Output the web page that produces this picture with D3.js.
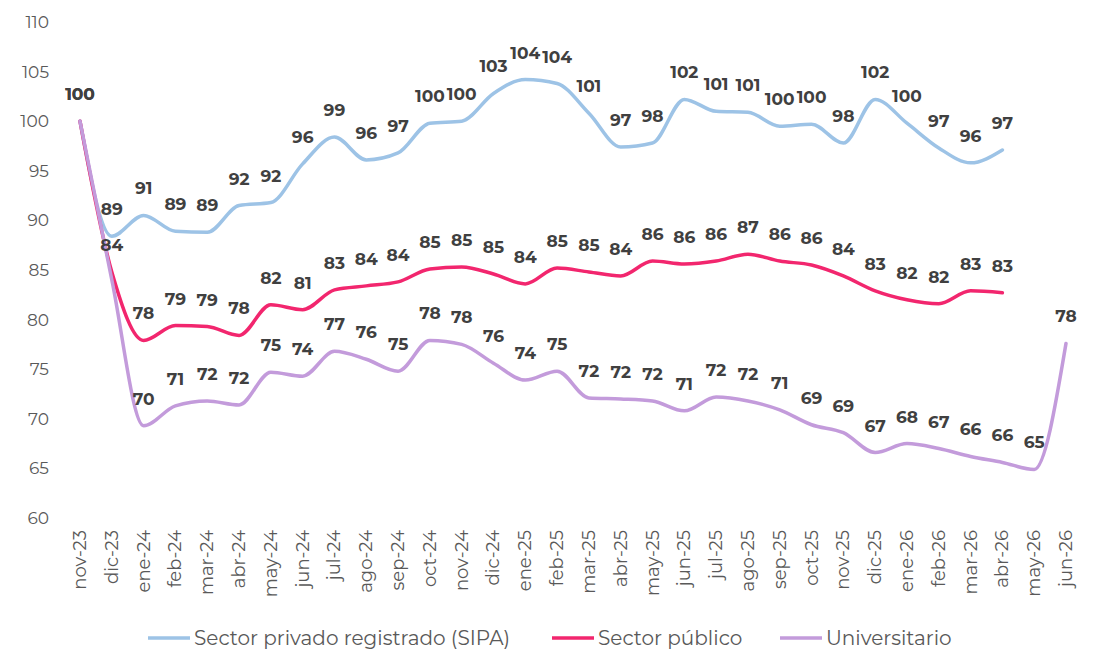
<!DOCTYPE html>
<html><head><meta charset="utf-8">
<script src="https://cdn.jsdelivr.net/npm/d3@7"></script>
<style>body{margin:0;background:#fff}text{font-family:Montserrat,"Open Sans",sans-serif}</style>
</head><body><svg id="c" width="1099" height="670"></svg>
<script>
const months = ["nov-23","dic-23","ene-24","feb-24","mar-24","abr-24","may-24","jun-24","jul-24","ago-24","sep-24","oct-24","nov-24","dic-24","ene-25","feb-25","mar-25","abr-25","may-25","jun-25","jul-25","ago-25","sep-25","oct-25","nov-25","dic-25","ene-26","feb-26","mar-26","abr-26","may-26","jun-26"];
const sipa = [100,88.4,90.5,88.9,88.8,91.5,91.8,95.7,98.4,96.1,96.8,99.8,100.0,102.8,104.2,103.8,100.8,97.4,97.8,102.2,101.0,100.9,99.5,99.7,97.8,102.2,99.8,97.3,95.8,97.1];
const sipaLbl = [100,89,91,89,89,92,92,96,99,96,97,100,100,103,104,104,101,97,98,102,101,101,100,100,98,102,100,97,96,97];
const publico = [100,84.8,77.9,79.4,79.3,78.4,81.5,81.0,83.0,83.4,83.8,85.1,85.3,84.6,83.6,85.2,84.8,84.4,85.9,85.6,85.9,86.6,85.9,85.5,84.4,82.9,82.0,81.6,82.9,82.7];
const publicoLbl = [100,84,78,79,79,78,82,81,83,84,84,85,85,85,84,85,85,84,86,86,86,87,86,86,84,83,82,82,83,83];
const univ = [100,84,69.3,71.3,71.8,71.4,74.7,74.3,76.8,76.0,74.8,77.9,77.5,75.6,73.9,74.8,72.1,72.0,71.8,70.8,72.2,71.8,70.9,69.4,68.6,66.6,67.5,67.0,66.2,65.6,64.9,77.6];
const univLbl = [null,null,70,71,72,72,75,74,77,76,75,78,78,76,74,75,72,72,72,71,72,72,71,69,69,67,68,67,66,66,65,78];
const yTicks = [60,65,70,75,80,85,90,95,100,105,110];
const seriesNames = ["Sector privado registrado (SIPA)","Sector público","Universitario"];
const colors = ["#9DC3E6","#F2266E","#C39BDB"];

const svg = d3.select("#c");
const x = d3.scalePoint().domain(months).range([80,1066]);
const y = d3.scaleLinear().domain([60,110]).range([518,22]);

svg.append("g").selectAll("text").data(yTicks).join("text")
  .attr("x",49).attr("y",d=>y(d)).attr("dy","0.35em").attr("text-anchor","end")
  .attr("font-size",17).attr("fill","#595959").text(d=>d);

svg.append("g").selectAll("text").data(months).join("text")
  .attr("transform",d=>`translate(${x(d)+6},530) rotate(-90)`)
  .attr("text-anchor","end").attr("font-size",18).attr("fill","#595959").text(d=>d);

const series = [[sipa,sipaLbl],[publico,publicoLbl],[univ,univLbl]];
const line = d3.line().x((d,i)=>x(months[i])).y(d=>y(d)).curve(d3.curveMonotoneX);
series.forEach(([vals],k)=>{
  svg.append("path").datum(vals).attr("d",line).attr("fill","none")
    .attr("stroke",colors[k]).attr("stroke-width",3.5).attr("stroke-linecap","round");
});
series.forEach(([vals,lbls])=>{
  lbls.forEach((l,i)=>{
    if(l===null) return;
    svg.append("text").attr("x",x(months[i])).attr("y",y(vals[i])-21)
      .attr("text-anchor","middle").attr("font-size",17).attr("font-weight","bold")
      .attr("fill","#404040").text(l);
  });
});

const lg = svg.append("g");
const lx = [148,552,780];
seriesNames.forEach((n,k)=>{
  lg.append("line").attr("x1",lx[k]).attr("x2",lx[k]+42).attr("y1",638).attr("y2",638)
    .attr("stroke",colors[k]).attr("stroke-width",3.5);
  lg.append("text").attr("x",lx[k]+46).attr("y",638).attr("dy","0.35em")
    .attr("font-size",20).attr("fill","#595959").text(n);
});
</script></body></html>
